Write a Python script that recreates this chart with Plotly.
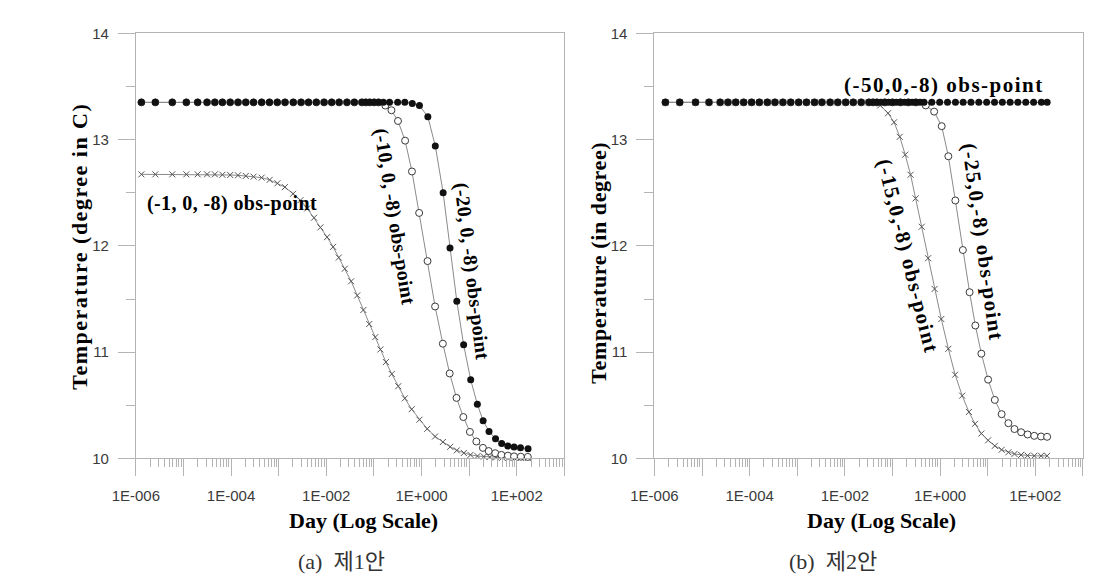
import plotly.graph_objects as go

# ---------------- data ----------------
# Left panel (a)
L1_t = [1.31e-6, 2.57e-6, 5.83e-6, 1.15e-5, 1.99e-5, 3.13e-5, 4.57e-5, 6.58e-5, 9.6e-5,
        1.40e-4, 2.04e-4, 2.97e-4, 4.40e-4, 6.41e-4, 9.35e-4, 1.36e-3, 2.03e-3, 2.96e-3,
        4.24e-3, 6.18e-3, 9.0e-3, 1.30e-2, 1.86e-2, 2.72e-2, 3.89e-2, 5.6e-2, 6.76e-2,
        8.17e-2, 0.101, 0.125, 0.158, 0.213, 0.316, 0.447, 0.641, 0.906, 1.36, 1.95, 2.85,
        3.97, 5.52, 7.68, 10.8, 14.9, 19.7, 26.2, 35.9, 48.3, 65, 88, 120, 173]
L1_T = [13.35, 13.35, 13.35, 13.35, 13.35, 13.35, 13.35, 13.35, 13.35, 13.35,
        13.35, 13.35, 13.35, 13.35, 13.35, 13.35, 13.35, 13.35, 13.35, 13.35,
        13.35, 13.35, 13.35, 13.35, 13.35, 13.35, 13.35, 13.35, 13.35, 13.35,
        13.35, 13.35, 13.35, 13.35, 13.34, 13.32, 13.215, 12.94, 12.50, 11.98,
        11.48, 11.07, 10.74, 10.51, 10.355, 10.255, 10.185, 10.14, 10.118, 10.108,
        10.10, 10.092]

L2_t = [1.31e-6, 2.57e-6, 5.83e-6, 1.15e-5, 1.99e-5, 3.13e-5, 4.57e-5, 6.58e-5, 9.6e-5,
        1.40e-4, 2.04e-4, 2.97e-4, 4.40e-4, 6.41e-4, 9.35e-4, 1.36e-3, 2.03e-3, 2.96e-3,
        4.24e-3, 6.18e-3, 9.0e-3, 1.30e-2, 1.86e-2, 2.72e-2, 3.89e-2, 5.6e-2, 6.76e-2,
        8.17e-2, 0.101, 0.125, 0.174, 0.234, 0.321, 0.453, 0.630, 0.893, 1.34, 1.93, 2.81,
        3.91, 5.44, 7.57, 10.4, 14.2, 19.5, 25.8, 35.4, 47.6, 65.4, 88.1, 122, 171]
L2_T = [13.35, 13.35, 13.35, 13.35, 13.35, 13.35, 13.35, 13.35, 13.35, 13.35,
        13.35, 13.35, 13.35, 13.35, 13.35, 13.35, 13.35, 13.35, 13.35, 13.35,
        13.35, 13.35, 13.35, 13.35, 13.35, 13.35, 13.35, 13.35, 13.35, 13.35,
        13.32, 13.276, 13.175, 12.99, 12.70, 12.31, 11.857, 11.43, 11.08, 10.80,
        10.57, 10.39, 10.25, 10.16, 10.10, 10.07, 10.05, 10.034, 10.027, 10.02,
        10.017, 10.015]

L3_t = [1.31e-6, 2.57e-6, 5.83e-6, 1.15e-5, 1.99e-5, 3.13e-5, 4.57e-5, 6.58e-5, 9.6e-5,
        1.40e-4, 2.04e-4, 2.97e-4, 4.40e-4, 6.47e-4, 9.44e-4, 1.35e-3, 2.01e-3, 2.86e-3,
        3.98e-3, 5.55e-3, 7.53e-3, 1.04e-2, 1.39e-2, 1.83e-2, 2.45e-2, 3.33e-2, 4.47e-2,
        6.01e-2, 7.98e-2, 0.107, 0.137, 0.179, 0.238, 0.325, 0.447, 0.621, 0.906, 1.32,
        1.93, 2.81, 4.0, 5.52, 7.75, 10.7, 15.0, 20.4, 27.1, 36.8, 50, 66.4, 90.2, 122, 171]
L3_T = [12.673, 12.673, 12.673, 12.673, 12.673, 12.673, 12.673, 12.669, 12.667, 12.664,
        12.658, 12.651, 12.642, 12.621, 12.589, 12.553, 12.490, 12.429, 12.352, 12.265,
        12.174, 12.082, 11.991, 11.89, 11.785, 11.667, 11.534, 11.397, 11.265, 11.142,
        11.026, 10.907, 10.795, 10.68, 10.566, 10.463, 10.365, 10.279, 10.207, 10.155,
        10.11, 10.076, 10.052, 10.034, 10.023, 10.018, 10.014, 10.01, 10.008, 10.006,
        10.005, 10.005, 10.005]

# Right panel (b)
R1_t = [1.7e-6, 3.4e-6, 7.3e-6, 1.4e-5, 2.4e-5, 3.5e-5, 5.1e-5, 7.5e-5, 1.1e-4, 1.6e-4,
        2.35e-4, 3.4e-4, 5.0e-4, 7.3e-4, 1.07e-3, 1.56e-3, 2.3e-3, 3.3e-3, 4.9e-3, 7.1e-3,
        1.04e-2, 1.5e-2, 2.2e-2, 3.2e-2, 3.9e-2, 4.7e-2, 5.7e-2, 6.9e-2, 8.3e-2, 0.1, 0.12,
        0.147, 0.18, 0.215, 0.26, 0.31, 0.38, 0.46, 0.67, 0.98, 1.43, 2.1, 3.05, 4.45, 6.5,
        9.5, 13.9, 20.3, 29.6, 43, 63, 92, 134, 177]
R1_T = [13.35, 13.35, 13.35, 13.35, 13.35, 13.35, 13.35, 13.35, 13.35, 13.35,
        13.35, 13.35, 13.35, 13.35, 13.35, 13.35, 13.35, 13.35, 13.35, 13.35,
        13.35, 13.35, 13.35, 13.35, 13.35, 13.35, 13.35, 13.35, 13.35, 13.35,
        13.35, 13.35, 13.35, 13.35, 13.35, 13.35, 13.35, 13.35, 13.35, 13.35,
        13.35, 13.35, 13.35, 13.35, 13.35, 13.35, 13.35, 13.35, 13.35, 13.35,
        13.35, 13.35, 13.35, 13.35]

R2_t = [1.7e-6, 3.4e-6, 7.3e-6, 1.4e-5, 2.4e-5, 3.5e-5, 5.1e-5, 7.5e-5, 1.1e-4, 1.6e-4,
        2.35e-4, 3.4e-4, 5.0e-4, 7.3e-4, 1.07e-3, 1.56e-3, 2.3e-3, 3.3e-3, 4.9e-3, 7.1e-3,
        1.04e-2, 1.5e-2, 2.2e-2, 3.2e-2, 3.9e-2, 5.53e-2, 8.07e-2, 0.108, 0.142, 0.185,
        0.240, 0.306, 0.411, 0.560, 0.766, 1.06, 1.49, 2.07, 2.91, 4.03, 5.41, 7.36, 10.2,
        14.1, 19.6, 27.2, 36.5, 50.4, 68.9, 95, 132, 177]
R2_T = [13.35, 13.35, 13.35, 13.35, 13.35, 13.35, 13.35, 13.35, 13.35, 13.35,
        13.35, 13.35, 13.35, 13.35, 13.35, 13.35, 13.35, 13.35, 13.35, 13.35,
        13.35, 13.35, 13.35, 13.35, 13.35, 13.321, 13.248, 13.163, 13.026, 12.858,
        12.669, 12.447, 12.18, 11.884, 11.595, 11.312, 11.032, 10.788, 10.591, 10.438,
        10.326, 10.235, 10.171, 10.119, 10.082, 10.058, 10.043, 10.034, 10.027, 10.025,
        10.025, 10.025]

R3_t = [1.7e-6, 3.4e-6, 7.3e-6, 1.4e-5, 2.4e-5, 3.5e-5, 5.1e-5, 7.5e-5, 1.1e-4, 1.6e-4,
        2.35e-4, 3.4e-4, 5.0e-4, 7.3e-4, 1.07e-3, 1.56e-3, 2.3e-3, 3.3e-3, 4.9e-3, 7.1e-3,
        1.04e-2, 1.5e-2, 2.2e-2, 3.2e-2, 3.9e-2, 4.7e-2, 6.9e-2, 0.1, 0.147, 0.215, 0.31,
        0.50, 0.75, 1.08, 1.49, 2.09, 3.01, 4.16, 5.5, 7.36, 10.2, 14.1, 19.6, 27.2, 36.5,
        50.4, 68.9, 95, 132, 177]
R3_T = [13.35, 13.35, 13.35, 13.35, 13.35, 13.35, 13.35, 13.35, 13.35, 13.35,
        13.35, 13.35, 13.35, 13.35, 13.35, 13.35, 13.35, 13.35, 13.35, 13.35,
        13.35, 13.35, 13.35, 13.35, 13.35, 13.35, 13.35, 13.35, 13.35, 13.35,
        13.35, 13.321, 13.263, 13.126, 12.843, 12.427, 11.961, 11.564, 11.251, 10.986,
        10.742, 10.551, 10.417, 10.332, 10.277, 10.247, 10.226, 10.213, 10.207, 10.204]

x_tickvals = [1e-6, 1e-5, 1e-4, 1e-3, 1e-2, 1e-1, 1e0, 1e1, 1e2, 1e3]
x_ticktext = ["1E-006", "", "1E-004", "", "1E-002", "", "1E+000", "", "1E+002", ""]
y_tickvals = [10, 11, 12, 13, 14]
y_ticktext = ["10", "11", "12", "13", "14"]
y_minor = [10.5, 11.5, 12.5, 13.5]

labels_left = ["(-1, 0, -8) obs-point", "(-10, 0, -8) obs-point", "(-20, 0, -8) obs-point"]
labels_right = ["(-50,0,-8) obs-point", "(-15,0,-8) obs-point", "(-25,0,-8) obs-point"]

# ---------------- styling ----------------
W, H = 1107, 583
AX = "#b4b4b4"
LINE = "#8a8a8a"
TICKFONT = dict(family="Liberation Sans, Arial, sans-serif", size=15, color="#3a3a3a")
SERIF = "Liberation Serif, Times New Roman, serif"

def fx(x):
    return x / W

def fy(y):
    return 1 - y / H

x_minor = [m * d for d in [1e-6, 1e-5, 1e-4, 1e-3, 1e-2, 1e-1, 1e0, 1e1, 1e2]
           for m in range(2, 10)]

fig = go.Figure()

def add_panel(xa, ya, traces):
    for t, T, kind in traces:
        if kind == "dot":
            mk = dict(symbol="circle", size=7, color="#111111", line=dict(width=0))
        elif kind == "open":
            mk = dict(symbol="circle", size=7, color="white",
                      line=dict(color="#3a3a3a", width=1))
        else:
            mk = dict(symbol="x-thin", size=6, line=dict(color="#555555", width=1))
        fig.add_trace(go.Scatter(x=t, y=T, mode="lines+markers", xaxis=xa, yaxis=ya,
                                 line=dict(color=LINE, width=1), marker=mk,
                                 cliponaxis=False, showlegend=False,
                                 hoverinfo="skip"))

add_panel("x", "y", [(L3_t, L3_T, "x"), (L2_t, L2_T, "open"), (L1_t, L1_T, "dot")])
add_panel("x2", "y2", [(R2_t, R2_T, "x"), (R3_t, R3_T, "open"), (R1_t, R1_T, "dot")])

def xaxis_cfg(domain, anchor):
    return dict(type="log", range=[-6, 3], domain=domain, anchor=anchor,
                tickvals=x_tickvals, ticktext=x_ticktext, ticks="outside", ticklen=17,
                tickcolor=AX, tickwidth=1, showline=True, linecolor=AX, linewidth=1,
                mirror=True, showgrid=False, zeroline=False, tickfont=TICKFONT,
                ticklabelstandoff=7,
                minor=dict(tickvals=x_minor, ticks="outside", ticklen=8, tickcolor=AX,
                           tickwidth=1, showgrid=False))

def yaxis_cfg(anchor):
    return dict(range=[10, 14], domain=[fy(463), fy(25)], anchor=anchor,
                tickvals=y_tickvals, ticktext=y_ticktext, ticks="outside", ticklen=17,
                tickcolor=AX, tickwidth=1, showline=True, linecolor=AX, linewidth=1,
                mirror=True, showgrid=False, zeroline=False, tickfont=TICKFONT,
                ticklabelstandoff=6,
                minor=dict(tickvals=y_minor, ticks="outside", ticklen=9, tickcolor=AX,
                           tickwidth=1, showgrid=False))

fig.update_layout(
    width=W, height=H, margin=dict(l=0, r=0, t=0, b=0),
    paper_bgcolor="white", plot_bgcolor="white", showlegend=False,
    xaxis=xaxis_cfg([fx(114.3), fx(552.3)], "y"),
    yaxis=yaxis_cfg("x"),
    xaxis2=xaxis_cfg([fx(644.4), fx(1082.4)], "y2"),
    yaxis2=yaxis_cfg("x2"),
)

def ann(text, x, y, size, angle=0, spacing=0.0, color="black", family=SERIF, bold=True):
    txt = text
    if bold:
        txt = "<b>" + txt + "</b>"
    if spacing:
        txt = '<span style="letter-spacing:%spx">%s</span>' % (spacing, txt)
    fig.add_annotation(text=txt, x=fx(x), y=fy(y), xref="paper", yref="paper",
                       xanchor="center", yanchor="middle", showarrow=False,
                       textangle=angle, font=dict(family=family, size=size, color=color))

# curve labels
ann(labels_left[0], 212.5, 200, 20, spacing=0.4)
ann(labels_left[1], 378.5, 214, 20, angle=81, spacing=0.3)
ann(labels_left[2], 458, 270, 20, angle=83, spacing=0.3)
ann(labels_right[0], 940, 78, 21, spacing=1.5)
ann(labels_right[1], 904, 255, 21, angle=76, spacing=1.5)
ann(labels_right[2], 980, 240, 21, angle=82, spacing=1.5)

# axis titles
ann("Day (Log Scale)", 347, 527, 22)
ann("Day (Log Scale)", 877, 527, 22)
ann("Temperature (degree in C)", 57, 244, 22, angle=-90, spacing=1.5)
ann("Temperature (in degree)", 587, 261, 22, angle=-90, spacing=0.6)

# captions
CAP = "Liberation Serif, Noto Sans CJK KR, serif"
ann("(a)\u00a0\u00a0제1안", 325, 569, 22, color="#333333", family=CAP, bold=False)
ann("(b)\u00a0\u00a0제2안", 827, 569, 22, color="#333333", family=CAP, bold=False)

fig.write_html("out.html", config={"displayModeBar": False},
               post_script="document.body.style.margin='0';document.body.style.overflow='hidden';")
